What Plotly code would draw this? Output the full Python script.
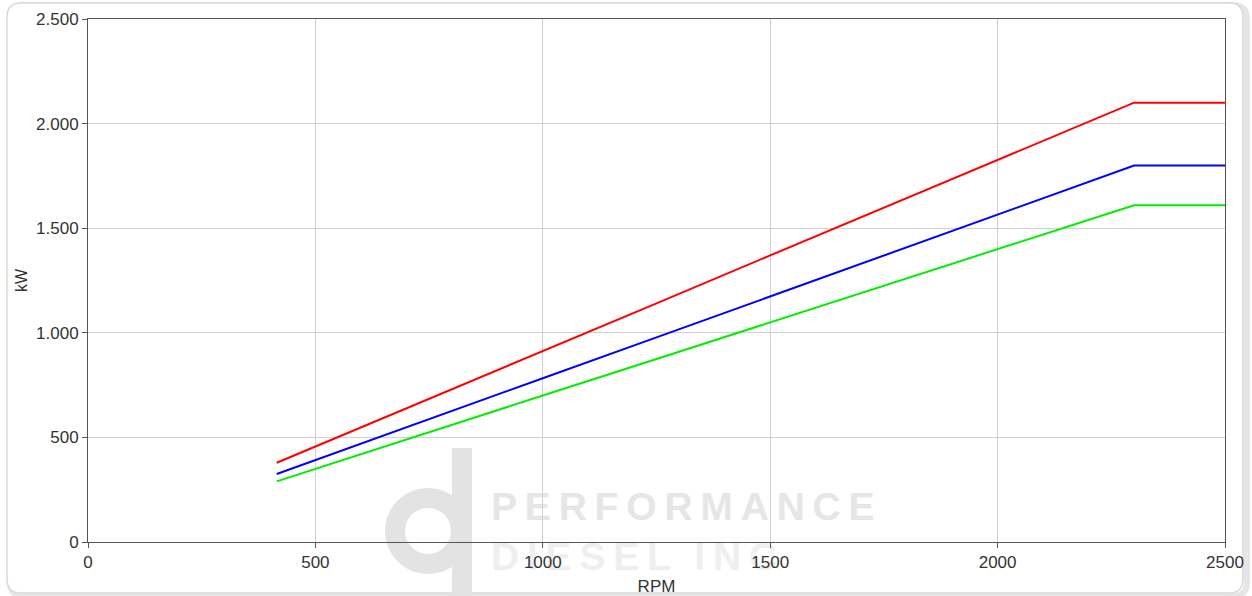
import plotly.graph_objects as go

# ---- data ----
rpm = [415, 500, 750, 1000, 1250, 1500, 1750, 2000, 2250, 2300, 2500]
kw_red = [379, 457, 685, 913, 1141, 1370, 1598, 1826, 2054, 2100, 2100]
kw_blue = [325, 391, 587, 783, 978, 1174, 1370, 1565, 1761, 1800, 1800]
kw_green = [290, 350, 525, 700, 875, 1050, 1225, 1400, 1575, 1610, 1610]

x_ticks = [0, 500, 1000, 1500, 2000, 2500]
y_ticks = [0, 500, 1000, 1500, 2000, 2500]

W, H = 1252, 596
L, R, T, B = 88, 1225, 19, 542  # plot area in pixels

def px(x):
    return (x - L) / (R - L)

def py(y):
    return (B - y) / (B - T)

fig = go.Figure()
for vals, col in [(kw_red, "#ff0000"), (kw_blue, "#0000ff"), (kw_green, "#00ee00")]:
    fig.add_trace(go.Scatter(x=rpm, y=vals, mode="lines",
                             line=dict(color=col, width=2), showlegend=False,
                             hoverinfo="x+y"))

def rounded_rect(x0, y0, x1, y1, r):
    rx = r / (R - L)
    ry = r / (B - T)
    X0, X1 = px(x0), px(x1)
    Y0, Y1 = py(y1), py(y0)
    return (f"M {X0+rx},{Y1} L {X1-rx},{Y1} Q {X1},{Y1} {X1},{Y1-ry} "
            f"L {X1},{Y0+ry} Q {X1},{Y0} {X1-rx},{Y0} L {X0+rx},{Y0} "
            f"Q {X0},{Y0} {X0},{Y0+ry} L {X0},{Y1-ry} Q {X0},{Y1} {X0+rx},{Y1} Z")

shapes = []
# card shadow + border
shapes.append(dict(type="path", xref="paper", yref="paper", layer="below",
                   path=rounded_rect(10, 5, 1247, 596, 14),
                   line=dict(color="#e6e6e6", width=6)))
shapes.append(dict(type="path", xref="paper", yref="paper", layer="below",
                   path=rounded_rect(7, 3, 1243, 593, 14),
                   line=dict(color="#d9d9d9", width=1.5), fillcolor="white"))
# watermark logo: bowl + stem
cx, cy, rr = 428, 531, 33
shapes.append(dict(type="circle", xref="paper", yref="paper", layer="below",
                   x0=px(cx - rr), x1=px(cx + rr), y0=py(cy + rr), y1=py(cy - rr),
                   line=dict(color="#e3e3e3", width=20)))
shapes.append(dict(type="rect", xref="paper", yref="paper", layer="below",
                   x0=px(452), x1=px(472), y0=py(600), y1=py(448),
                   line=dict(width=0), fillcolor="#e3e3e3"))
# watermark text as shape labels so it stays beneath the grid
shapes.append(dict(type="rect", xref="paper", yref="paper", layer="below",
                   x0=px(485), x1=px(880), y0=py(520), y1=py(485),
                   line=dict(width=0), fillcolor="rgba(0,0,0,0)",
                   label=dict(text="P E R F O R M A N C E".replace(" ", "\u2009"),
                              textposition="middle left",
                              font=dict(family="Liberation Sans", size=39,
                                        color="#e6e6e6", weight="bold"))))
shapes.append(dict(type="rect", xref="paper", yref="paper", layer="below",
                   x0=px(485), x1=px(880), y0=py(570), y1=py(535),
                   line=dict(width=0), fillcolor="rgba(0,0,0,0)",
                   label=dict(text="D I E S E L   I N C".replace(" ", "\u2009"),
                              textposition="middle left",
                              font=dict(family="Liberation Sans", size=39,
                                        color="#efefef", weight="bold"))))

axis_common = dict(
    showline=True, linecolor="#555555", linewidth=1, mirror=True,
    showgrid=True, gridcolor="#d0d0d0", gridwidth=1,
    ticks="outside", ticklen=5, tickcolor="#555555",
    zeroline=False,
    tickfont=dict(family="Liberation Sans, Arial, sans-serif", size=17, color="#333333"),
)

fig.update_layout(
    width=W, height=H,
    margin=dict(l=L, r=W - R, t=T, b=H - B, autoexpand=False),
    paper_bgcolor="white", plot_bgcolor="rgba(0,0,0,0)",
    separators=",.",
    shapes=shapes,
    xaxis=dict(range=[0, 2500], tickvals=x_ticks, tickformat="d",
               title=dict(text="RPM", standoff=9,
                          font=dict(family="Liberation Sans, Arial, sans-serif", size=17, color="#333333")),
               **axis_common),
    yaxis=dict(range=[0, 2500], tickvals=y_ticks, tickformat=",d",
               title=dict(text="kW", standoff=4,
                          font=dict(family="Liberation Sans, Arial, sans-serif", size=16, color="#333333")),
               **axis_common),
    font=dict(family="Liberation Sans, Arial, sans-serif", color="#333333"),
)

fig.write_html("out.html", config={"displayModeBar": False},
               post_script="document.body.style.margin='0';document.body.style.overflow='hidden';")
